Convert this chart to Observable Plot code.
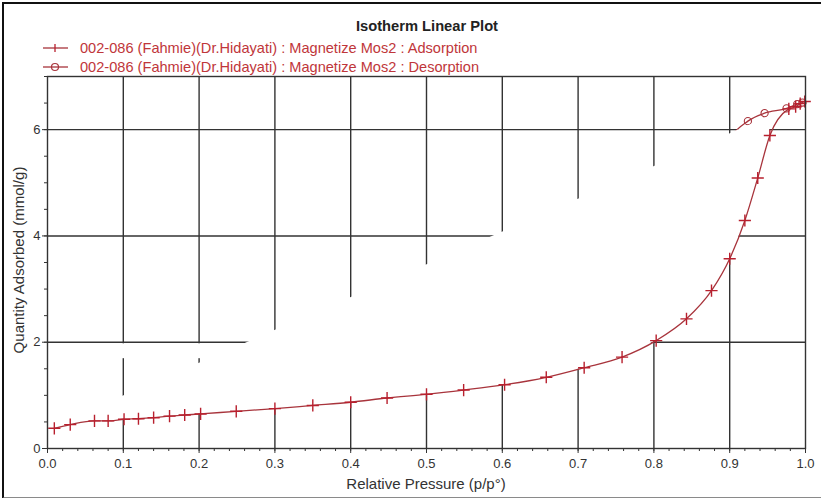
<!DOCTYPE html>
<html>
<head>
<meta charset="utf-8">
<script src="https://cdn.jsdelivr.net/npm/d3@7"></script>
<script src="https://cdn.jsdelivr.net/npm/@observablehq/plot@0.6"></script>
<style>
  html, body { margin: 0; padding: 0; background: #fff; }
  #wrap { position: relative; width: 821px; height: 498px; overflow: hidden; font-family: "Liberation Sans", Arial, sans-serif; }
  #border { position: absolute; left: 2px; top: 2px; width: 830px; height: 493px; border-top: 2px solid #111; border-left: 2px solid #111; border-bottom: 2px solid #8a8a8a; }
  #title { position: absolute; top: 17px; left: 427px; transform: translateX(-50%); font-weight: bold; font-size: 14.7px; line-height: 18px; color: #222; white-space: nowrap; }
  .leg { position: absolute; left: 40px; height: 18px; display: flex; align-items: center; white-space: nowrap; font-size: 14.6px; color: #c0363a; }
  .leg svg { margin-right: 10px; }
  #ylab { position: absolute; left: 18px; top: 260px; transform: translate(-50%, -50%) rotate(-90deg); font-size: 15px; line-height: 17px; color: #333; white-space: nowrap; }
  #xlab { position: absolute; left: 426px; top: 475px; transform: translateX(-50%); font-size: 15px; line-height: 17px; color: #333; white-space: nowrap; }
  #plot { position: absolute; left: 0; top: 70px; }
</style>
</head>
<body>
<div id="wrap">
  <div id="border"></div>
  <div id="title"></div>
  <div class="leg" id="leg1" style="top:39px"></div>
  <div class="leg" id="leg2" style="top:58px"></div>
  <div id="plot"></div>
  <div id="ylab"></div>
  <div id="xlab"></div>
</div>
<script>
// ---- Data ----
const titleText = "Isotherm Linear Plot";
const seriesNames = [
  "002-086 (Fahmie)(Dr.Hidayati) : Magnetize Mos2 : Adsorption",
  "002-086 (Fahmie)(Dr.Hidayati) : Magnetize Mos2 : Desorption"
];
const xLabel = "Relative Pressure (p/p°)";
const yLabel = "Quantity Adsorbed (mmol/g)";

// Adsorption branch: relative pressure and quantity adsorbed (mmol/g)
const adsP = [0.009, 0.030, 0.062, 0.080, 0.101, 0.120, 0.140, 0.161, 0.181, 0.202,
              0.249, 0.300, 0.350, 0.400, 0.448, 0.500, 0.549, 0.603, 0.658, 0.708,
              0.758, 0.803, 0.843, 0.876, 0.900, 0.920, 0.937, 0.953, 0.978, 0.987,
              0.993, 0.999];
const adsQ = [0.38, 0.45, 0.52, 0.52, 0.55, 0.56, 0.58, 0.61, 0.63, 0.65,
              0.70, 0.75, 0.81, 0.87, 0.95, 1.02, 1.10, 1.20, 1.34, 1.52,
              1.72, 2.03, 2.44, 2.97, 3.57, 4.29, 5.09, 5.89, 6.39, 6.43,
              6.49, 6.53];

// Desorption branch (its lower part is hidden in the reference picture)
const desP = [0.800, 0.850, 0.870, 0.900, 0.924, 0.946, 0.975, 0.989, 0.996];
const desQ = [2.20, 3.30, 4.50, 5.80, 6.16, 6.31, 6.40, 6.48, 6.51];

// Erased areas of the original picture (in data units)
const maskP = [0.3, 0.9];
const maskQ = [2.22, 5.92];
const bandP = [0.05, 0.25];
const bandQ = [1.69, 1.97];

// Axis ticks
const xTicks = [0, 0.1, 0.2, 0.3, 0.4, 0.5, 0.6, 0.7, 0.8, 0.9, 1.0];
const xMinor = d3.range(0, 1.0001, 0.02);
const yTicks = [0, 2, 4, 6];
const yMinor = d3.range(0, 7.0001, 0.5);

// ---- Build ----
const lineColor = "#a8343c";
const markColor = "#b8202e";
const gridColor = "#333";

const ads = adsP.map((p, i) => ({p, q: adsQ[i]}));
const des = desP.map((p, i) => ({p, q: desQ[i]}));
const edge = p => maskQ[0] + (p - maskP[0]) * (maskQ[1] - maskQ[0]) / (maskP[1] - maskP[0]);
const mask = ads.filter(d => edge(d.p) > d.q && d.p < 0.96).map(d => ({p: d.p, q1: d.q, q2: Math.min(7, edge(d.p))}));
const band = [{p1: bandP[0], p2: bandP[1], q1: bandQ[0], q2: bandQ[1]}];

document.getElementById("title").textContent = titleText;
document.getElementById("xlab").textContent = xLabel;
document.getElementById("ylab").textContent = yLabel;

function legendIcon(sym) {
  const ns = "http://www.w3.org/2000/svg";
  const s = document.createElementNS(ns, "svg");
  s.setAttribute("width", 30); s.setAttribute("height", 12);
  const l = document.createElementNS(ns, "line");
  l.setAttribute("x1", 3); l.setAttribute("x2", 28); l.setAttribute("y1", 6); l.setAttribute("y2", 6);
  l.setAttribute("stroke", lineColor); l.setAttribute("stroke-width", 1.3);
  s.appendChild(l);
  if (sym === "plus") {
    const v = document.createElementNS(ns, "line");
    v.setAttribute("x1", 15); v.setAttribute("x2", 15); v.setAttribute("y1", 2); v.setAttribute("y2", 10);
    v.setAttribute("stroke", markColor); v.setAttribute("stroke-width", 1.3);
    s.appendChild(v);
  } else {
    const c = document.createElementNS(ns, "circle");
    c.setAttribute("cx", 15); c.setAttribute("cy", 6); c.setAttribute("r", 3.5);
    c.setAttribute("fill", "none"); c.setAttribute("stroke", lineColor); c.setAttribute("stroke-width", 1.2);
    s.appendChild(c);
  }
  return s;
}
[["leg1", "plus"], ["leg2", "circle"]].forEach(([id, sym], i) => {
  const el = document.getElementById(id);
  el.appendChild(legendIcon(sym));
  const t = document.createElement("span");
  t.textContent = seriesNames[i];
  el.appendChild(t);
});

const chart = Plot.plot({
  width: 821,
  height: 428,
  marginTop: 6,
  marginBottom: 50,
  marginLeft: 47,
  marginRight: 16,
  x: {domain: [0, 1]},
  y: {domain: [0, 7]},
  style: {fontFamily: "'Liberation Sans', Arial, sans-serif", fontSize: "13px", color: "#333", background: "transparent"},
  marks: [
    Plot.ruleX(xTicks.filter(t => t > 0 && t < 1), {stroke: gridColor, strokeWidth: 1.4}),
    Plot.ruleY(yTicks.filter(t => t > 0), {stroke: gridColor, strokeWidth: 1.4}),
    Plot.line(des, {x: "p", y: "q", stroke: lineColor, strokeWidth: 1.3, curve: "monotone-x"}),
    Plot.dot(des, {x: "p", y: "q", symbol: "circle", r: 3.6, stroke: lineColor, fill: "none", strokeWidth: 1.1}),
    Plot.rect(band, {x1: "p1", x2: "p2", y1: "q1", y2: "q2", fill: "white"}),
    Plot.areaY(mask, {x: "p", y1: "q1", y2: "q2", fill: "white", curve: "monotone-x"}),
    Plot.line(ads, {x: "p", y: "q", stroke: lineColor, strokeWidth: 1.3, curve: "monotone-x"}),
    Plot.dot(ads, {x: "p", y: "q", symbol: "plus", r: 4, stroke: markColor, strokeWidth: 1.4}),
    Plot.frame({stroke: gridColor, strokeWidth: 1.4}),
    Plot.axisX({ticks: xMinor, tickSize: 3, tickFormat: () => "", label: null, stroke: gridColor}),
    Plot.axisX({ticks: xTicks, tickSize: 5, tickPadding: 5, tickFormat: d3.format(".1f"), label: null, stroke: gridColor, fill: "#333"}),
    Plot.axisY({ticks: yMinor, tickSize: 3, tickFormat: () => "", label: null, stroke: gridColor}),
    Plot.axisY({ticks: yTicks, tickSize: 5, tickPadding: 2, tickFormat: d3.format("d"), label: null, stroke: gridColor, fill: "#333"})
  ]
});
document.getElementById("plot").appendChild(chart);
</script>
</body>
</html>
